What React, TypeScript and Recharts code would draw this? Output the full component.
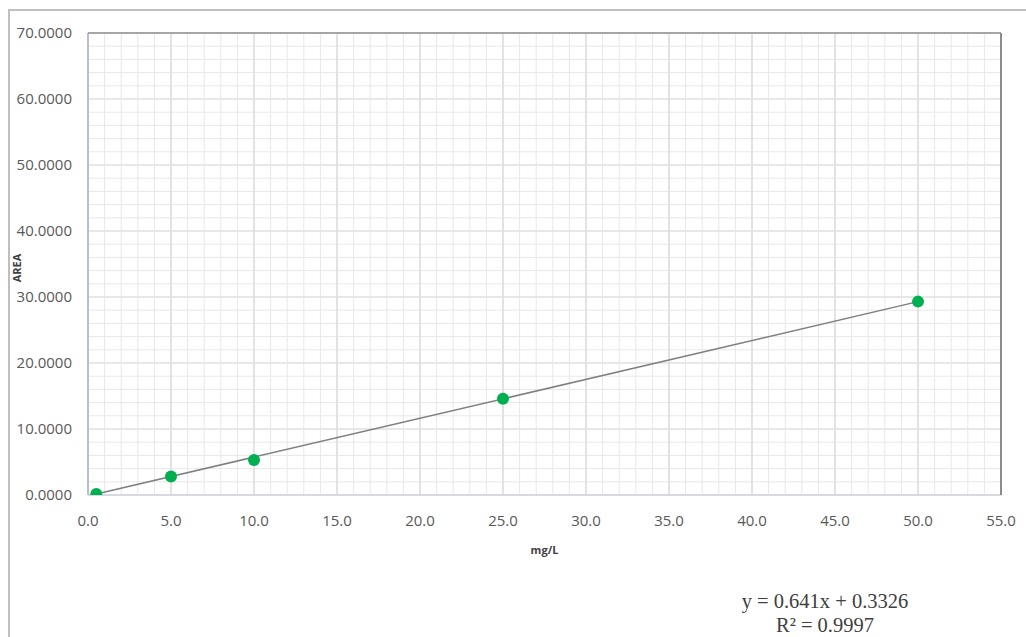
import {
  CartesianGrid,
  ReferenceLine,
  Scatter,
  ScatterChart,
  XAxis,
  YAxis,
} from "recharts";

const concentrations = [0.5, 5, 10, 25, 50];
const areas = [0.15, 2.8, 5.3, 14.6, 29.3];

// trendline ends
const trendX = [0.5, 50];
const trendY = [0.15, 29.3];

const xTicks = [0, 5, 10, 15, 20, 25, 30, 35, 40, 45, 50, 55];
const yTicks = [0, 10, 20, 30, 40, 50, 60, 70];

const points = concentrations.map((x, i) => ({ x, y: areas[i] }));
const trend = trendX.map((x, i) => ({ x, y: trendY[i] }));

const minorX = Array.from({ length: 56 }, (_, i) => i).filter((v) => v % 5 !== 0);
const minorY = Array.from({ length: 36 }, (_, i) => i * 2).filter((v) => v % 10 !== 0);

const tickStyle = { fill: "#595959", fontSize: 15, fontFamily: "Open Sans" };

export default function App() {
  return (
    <div
      style={{
        position: "absolute",
        left: 0,
        top: 0,
        width: 1026,
        height: 637,
        background: "#fff",
        overflow: "hidden",
      }}
    >
      <div
        style={{
          position: "absolute",
          left: 8,
          top: 9,
          width: 1030,
          height: 640,
          borderLeft: "2px solid #bfbfbf",
          borderTop: "2px solid #bfbfbf",
        }}
      />
      <div style={{ position: "absolute", left: 0, top: 0 }}>
        <ScatterChart
          width={1026}
          height={637}
          margin={{ top: 33, right: 25, bottom: 82, left: 0 }}
        >
          <CartesianGrid stroke="#d9d9d9" strokeWidth={1} />
          {minorX.map((v) => (
            <ReferenceLine key={"mx" + v} x={v} stroke="#e8e8e8" strokeWidth={1} />
          ))}
          {minorY.map((v) => (
            <ReferenceLine key={"my" + v} y={v} stroke="#e8e8e8" strokeWidth={1} />
          ))}
          {xTicks.slice(1, -1).map((v) => (
            <ReferenceLine key={"Mx" + v} x={v} stroke="#d9d9d9" strokeWidth={1} />
          ))}
          {yTicks.slice(1, -1).map((v) => (
            <ReferenceLine key={"My" + v} y={v} stroke="#e3e3e3" strokeWidth={1} />
          ))}
          <ReferenceLine y={0} stroke="#d0d5de" strokeWidth={1.5} />
          <ReferenceLine x={0} stroke="#b8bfcc" strokeWidth={2} />
          <ReferenceLine y={70} stroke="#a6a6a6" strokeWidth={2} />
          <ReferenceLine x={55} stroke="#8c8c8c" strokeWidth={2} />
          <XAxis
            type="number"
            dataKey="x"
            domain={[0, 55]}
            ticks={xTicks}
            tickFormatter={(v: number) => v.toFixed(1)}
            axisLine={false}
            tickLine={false}
            tickSize={0}
            tickMargin={20}
            tick={tickStyle}
            height={60}
            interval={0}
            allowDataOverflow
            label={{
              value: "mg/L",
              position: "insideBottom",
              offset: 1,
              style: { fill: "#404040", fontSize: 11, fontWeight: 700, fontFamily: "Open Sans" },
            }}
          />
          <YAxis
            type="number"
            dataKey="y"
            domain={[0, 70]}
            ticks={yTicks}
            tickFormatter={(v: number) => v.toFixed(4)}
            axisLine={false}
            tickLine={false}
            tickSize={0}
            tickMargin={16}
            tick={tickStyle}
            width={88}
            interval={0}
            allowDataOverflow
            label={{
              value: "AREA",
              angle: -90,
              position: "insideLeft",
              offset: 17,
              dy: 4,
              style: {
                fill: "#404040",
                fontSize: 11,
                fontWeight: 700,
                fontFamily: "Open Sans",
                textAnchor: "middle",
              },
            }}
          />
          <Scatter
            data={trend}
            line={{ stroke: "#7f7f7f", strokeWidth: 1.5 }}
            shape={() => <g />}
            isAnimationActive={false}
          />
          <Scatter
            data={points}
            fill="#00b050"
            shape={(p: any) => <circle cx={p.cx} cy={p.cy} r={6} fill="#00b050" />}
            isAnimationActive={false}
          />
        </ScatterChart>
      </div>
      <div
        style={{
          position: "absolute",
          left: 715,
          top: 589,
          width: 220,
          textAlign: "center",
          fontFamily: "Liberation Serif",
          fontSize: 20.5,
          lineHeight: "24px",
          color: "#404040",
        }}
      >
        <div>y = 0.641x + 0.3326</div>
        <div>R² = 0.9997</div>
      </div>
    </div>
  );
}
